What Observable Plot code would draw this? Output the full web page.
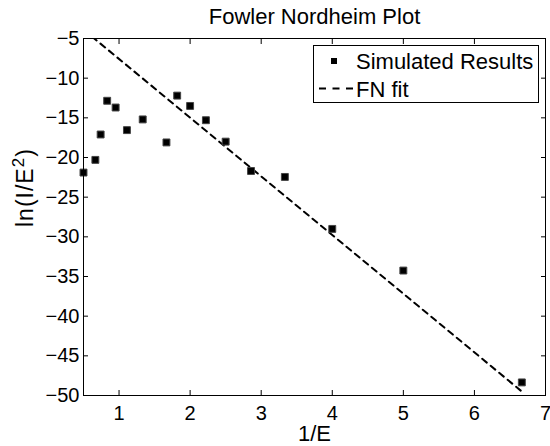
<!DOCTYPE html>
<html><head><meta charset="utf-8">
<script src="https://cdn.jsdelivr.net/npm/d3@7"></script>
<script src="https://cdn.jsdelivr.net/npm/@observablehq/plot@0.6"></script>
<style>
body{margin:0;background:#fff;}
#wrap{position:relative;width:550px;height:446px;font-family:"Liberation Sans",Arial,sans-serif;}
#legend{position:absolute;left:0;top:0;pointer-events:none;}
</style></head><body><div id="wrap"></div>
<script>
const invE = [0.5, 0.667, 0.741, 0.833, 0.952, 1.111, 1.333, 1.667, 1.818, 2.0, 2.222, 2.5, 2.857, 3.333, 4.0, 5.0, 6.667];
const lnIE2 = [-21.9, -20.3, -17.1, -12.85, -13.7, -16.55, -15.2, -18.1, -12.2, -13.5, -15.3, -18.0, -21.7, -22.45, -29.0, -34.25, -48.35];
const fitX = [0.5, 6.667];
const fitY = [-3.88, -49.5];
const xTicks = [1, 2, 3, 4, 5, 6, 7];
const yTicks = [-50, -45, -40, -35, -30, -25, -20, -15, -10, -5];
const titleText = "Fowler Nordheim Plot";
const xLabel = "1/E";
const yLabel = "ln(I/E²)";
const seriesNames = ["Simulated Results", "FN fit"];

const points = invE.map((x, i) => ({x, y: lnIE2[i]}));
const fit = fitX.map((x, i) => ({x, y: fitY[i]}));

const chart = Plot.plot({
  width: 550,
  height: 446,
  marginLeft: 83,
  marginRight: 5,
  marginTop: 38,
  marginBottom: 51,
  style: {fontFamily: "'Liberation Sans', Arial, sans-serif", fontSize: "22px", color: "#000", background: "#fff"},
  x: {domain: [0.5, 7]},
  y: {domain: [-50, -5]},
  marks: [
    Plot.line(fit, {x: "x", y: "y", stroke: "#000", strokeWidth: 2, strokeDasharray: "6,5", clip: true}),
    Plot.dot(points, {x: "x", y: "y", symbol: "square", r: 3.9, fill: "#000", stroke: "#444", strokeWidth: 1}),
    Plot.frame({stroke: "#000", strokeWidth: 1}),
    Plot.axisX(xTicks, {anchor: "bottom", tickSize: -5, tickPadding: 15, label: null, fontSize: 20}),
    Plot.axisX(xTicks, {anchor: "top", tickSize: -5, tickFormat: () => "", label: null}),
    Plot.axisY(yTicks, {anchor: "left", tickSize: -5, tickPadding: 9, label: null, fontSize: 20}),
    Plot.axisY(yTicks, {anchor: "right", tickSize: -5, tickFormat: () => "", label: null}),
    Plot.text([titleText], {frameAnchor: "top", dy: -22, lineAnchor: "middle", text: d => d, fontSize: 22}),
    Plot.text([xLabel], {frameAnchor: "bottom", dy: 38, lineAnchor: "middle", text: d => d, fontSize: 22}),
    Plot.text([yLabel], {frameAnchor: "left", dx: -58, dy: 10, rotate: -90, lineAnchor: "middle", text: d => d, fontSize: 23})
  ]
});
const wrap = document.getElementById("wrap");
wrap.appendChild(chart);

// render the superscript of the y label as a real raised, smaller glyph
chart.querySelectorAll("text").forEach(t => {
  if (t.textContent === yLabel) {
    const [pre, post] = yLabel.split("²");
    t.textContent = "";
    t.setAttribute("letter-spacing", "1");
    const ns = "http://www.w3.org/2000/svg";
    const a = document.createElementNS(ns, "tspan"); a.textContent = pre;
    const b = document.createElementNS(ns, "tspan"); b.textContent = "2";
    b.setAttribute("font-size", "17"); b.setAttribute("dy", "-9");
    const c = document.createElementNS(ns, "tspan"); c.textContent = post;
    c.setAttribute("dy", "9");
    t.append(a, b, c);
  }
});

const ns = "http://www.w3.org/2000/svg";
const lg = document.createElementNS(ns, "svg");
lg.setAttribute("id", "legend");
lg.setAttribute("width", 550);
lg.setAttribute("height", 446);
lg.innerHTML = `
<rect x="313.5" y="45.5" width="225" height="57" fill="#fff" stroke="#000" stroke-width="1"/>
<rect x="331" y="58" width="6" height="6" fill="#000"/>
<text x="356" y="68.5" font-size="22" font-family="Liberation Sans, Arial, sans-serif">${seriesNames[0]}</text>
<line x1="319" x2="353" y1="88.5" y2="88.5" stroke="#000" stroke-width="2" stroke-dasharray="7,6.5"/>
<text x="356" y="97" font-size="22" font-family="Liberation Sans, Arial, sans-serif">${seriesNames[1]}</text>`;
wrap.appendChild(lg);
</script></body></html>
